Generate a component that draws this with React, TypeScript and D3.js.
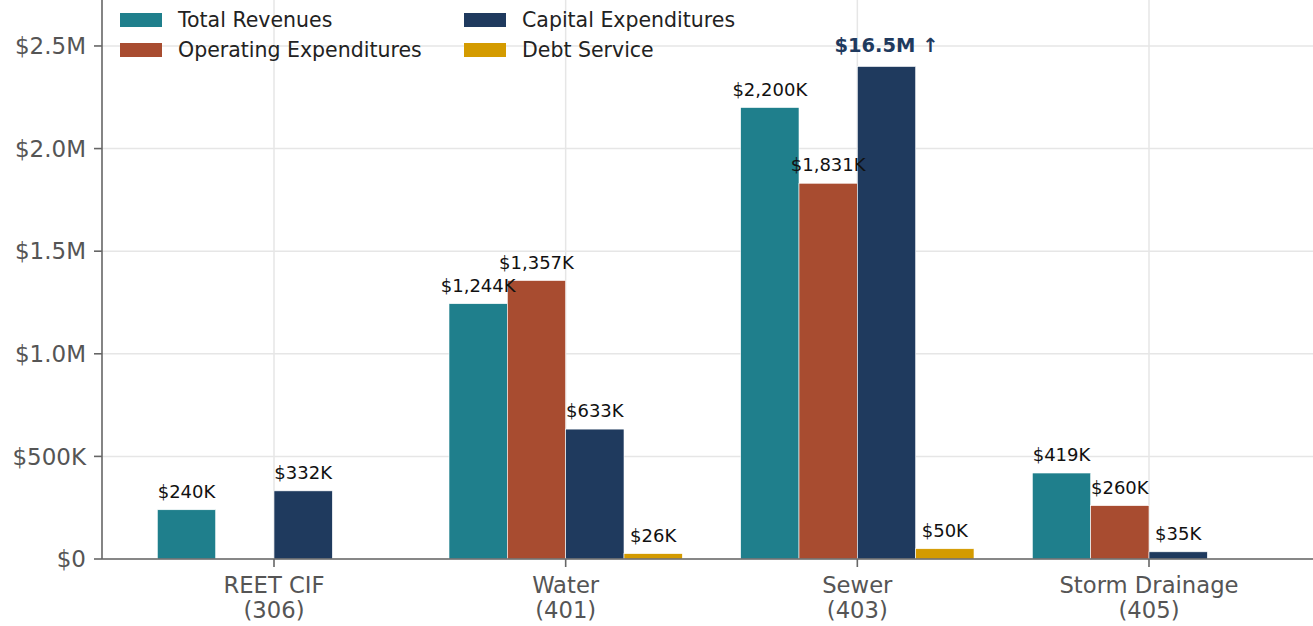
import React from "react";
import * as d3 from "d3";

const categories = ["REET CIF\n(306)", "Water\n(401)", "Sewer\n(403)", "Storm Drainage\n(405)"];
const seriesNames = ["Total Revenues", "Operating Expenditures", "Capital Expenditures", "Debt Service"];
const seriesColors = ["#1f7f8c", "#a84c30", "#1f3a5e", "#d49b00"];
const totalRevenues = [240000, 1244000, 2200000, 419000];
const operatingExpenditures = [0, 1357000, 1831000, 260000];
const capitalExpenditures = [332000, 633000, 16500000, 35000];
const debtService = [0, 26000, 50000, 0];
const yTicks = [0, 500000, 1000000, 1500000, 2000000, 2500000];
const yTickLabels = ["$0", "$500K", "$1.0M", "$1.5M", "$2.0M", "$2.5M"];
const clipValue = 2400000;
const yMax = 2724000;

const W = 1313;
const H = 626;
const left = 102;
const bottom = 559;

export default function App() {
  const series = [totalRevenues, operatingExpenditures, capitalExpenditures, debtService];
  const y = d3.scaleLinear().domain([0, yMax]).range([bottom, 0]);
  const x = d3.scaleLinear().domain([0, 3]).range([274, 1149]);
  const step = x(1) - x(0);
  const bw = step * 0.2;
  const fmtK = (v: number) => "$" + d3.format(",")(Math.round(v / 1000)) + "K";
  const fmtM = (v: number) => "$" + d3.format(".1f")(v / 1e6) + "M \u2191";
  const font = "DejaVu Sans, sans-serif";

  return (
    <svg width={W} height={H} style={{ position: "absolute", left: 0, top: 0, background: "#fff" }} fontFamily={font}>
      {yTicks.map((t, i) => (
        <line key={"gy" + i} x1={left} x2={W} y1={y(t)} y2={y(t)} stroke="#e6e6e6" strokeWidth={1.5} />
      ))}
      {categories.map((c, i) => (
        <line key={"gx" + i} x1={x(i)} x2={x(i)} y1={0} y2={bottom} stroke="#e6e6e6" strokeWidth={1.5} />
      ))}
      {series.map((vals, si) =>
        vals.map((v, ci) => {
          if (v <= 0) return null;
          const shown = Math.min(v, clipValue);
          const bx = x(ci) + (si - 2) * bw;
          return (
            <rect key={`b${si}-${ci}`} x={bx} y={y(shown)} width={bw} height={bottom - y(shown)}
              fill={seriesColors[si]} stroke="#fff" strokeWidth={0.6} />
          );
        })
      )}
      {series.map((vals, si) =>
        vals.map((v, ci) => {
          if (v <= 0) return null;
          const bx = x(ci) + (si - 2) * bw + bw / 2;
          if (v > clipValue) {
            return (
              <text key={`l${si}-${ci}`} x={bx} y={y(clipValue) - 14} textAnchor="middle" fontSize={19.5}
                fontWeight="bold" fill="#1f3a5e">{fmtM(v)}</text>
            );
          }
          return (
            <text key={`l${si}-${ci}`} x={bx} y={y(v) - 12} textAnchor="middle" fontSize={18} fill="#111">
              {fmtK(v)}
            </text>
          );
        })
      )}
      <line x1={left} x2={left} y1={0} y2={bottom} stroke="#666" strokeWidth={1.6} />
      <line x1={left} x2={W} y1={bottom} y2={bottom} stroke="#666" strokeWidth={1.6} />
      {yTicks.map((t, i) => (
        <g key={"yt" + i}>
          <line x1={left - 8} x2={left} y1={y(t)} y2={y(t)} stroke="#666" strokeWidth={1.6} />
          <text x={left - 16} y={y(t)} dy="0.36em" textAnchor="end" fontSize={23} fill="#555">{yTickLabels[i]}</text>
        </g>
      ))}
      {categories.map((c, i) => (
        <g key={"xt" + i}>
          <line x1={x(i)} x2={x(i)} y1={bottom} y2={bottom + 8} stroke="#666" strokeWidth={1.6} />
          {c.split("\n").map((ln, li) => (
            <text key={li} x={x(i)} y={593 + li * 25} textAnchor="middle" fontSize={22.7} fill="#555">{ln}</text>
          ))}
        </g>
      ))}
      {seriesNames.map((n, i) => {
        const col = Math.floor(i / 2);
        const row = i % 2;
        const sx = col === 0 ? 120 : 464;
        const sy = 20 + row * 30;
        return (
          <g key={"lg" + i}>
            <rect x={sx} y={sy - 7} width={42} height={14} fill={seriesColors[i]} />
            <text x={sx + 58} y={sy} dy="0.36em" fontSize={20.5} fill="#222">{n}</text>
          </g>
        );
      })}
    </svg>
  );
}
